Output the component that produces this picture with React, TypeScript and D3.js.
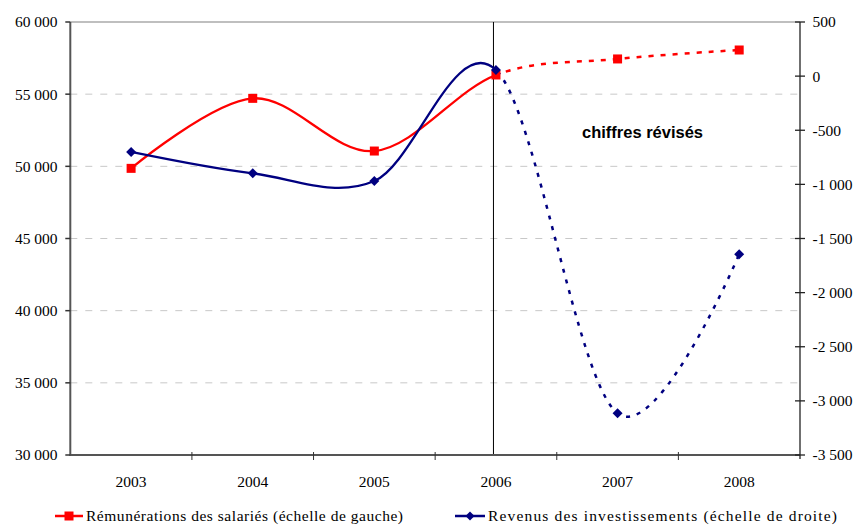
import React from "react";
import * as d3 from "d3";

const years = ["2003", "2004", "2005", "2006", "2007", "2008"];
const remunerations = [49860, 54710, 51060, 56330, 57440, 58060];
const revenus = [-700, -898, -969, 57, -3115, -1646];
const leftTicks = [30000, 35000, 40000, 45000, 50000, 55000, 60000];
const rightTicks = [500, 0, -500, -1000, -1500, -2000, -2500, -3000, -3500];
const revisedFrom = "2006";
const legendLabels = [
  "Rémunérations des salariés (échelle de gauche)",
  "Revenus des investissements (échelle de droite)",
];
const annotation = "chiffres révisés";

const W = 858;
const H = 526;
const L = 70.3;
const R = 800;
const T = 22;
const B = 455;

const fmt = (v: number) => {
  const s = Math.abs(v).toString().replace(/\B(?=(\d{3})+(?!\d))/g, " ");
  return (v < 0 ? "-" : "") + s;
};

const serifStyle: React.CSSProperties = {
  fontFamily: '"Liberation Serif", "Times New Roman", Times, "DejaVu Serif", serif',
};

export default function App() {
  const x = d3.scaleBand<string>().domain(years).range([L, R]).padding(0);
  const cx = (y: string) => (x(y) as number) + x.bandwidth() / 2;
  const yL = d3.scaleLinear().domain([30000, 60000]).range([B, T]);
  const yR = d3.scaleLinear().domain([-3500, 500]).range([B, T]);

  const curve = d3.curveCardinal.tension(0);
  const redLine = d3
    .line<number>()
    .x((_, i) => cx(years[i]))
    .y((d) => yL(d))
    .curve(curve);
  const blueLine = d3
    .line<number>()
    .x((_, i) => cx(years[i]))
    .y((d) => yR(d))
    .curve(curve);

  const splitX = cx(revisedFrom);
  const red = "#ff0000";
  const navy = "#000080";

  const diamond = (px: number, py: number, r: number) =>
    `M${px},${py - r}L${px + r},${py}L${px},${py + r}L${px - r},${py}Z`;

  return (
    <svg
      width={W}
      height={H}
      style={{ position: "absolute", left: 0, top: 0, background: "#fff" }}
    >
      <defs>
        <clipPath id="solidClip">
          <rect x={0} y={0} width={splitX} height={H} />
        </clipPath>
        <clipPath id="dashClip">
          <rect x={splitX} y={0} width={W - splitX} height={H} />
        </clipPath>
      </defs>

      {/* gridlines */}
      {leftTicks
        .filter((t) => t !== 30000 && t !== 60000)
        .map((t) => (
          <line
            key={"g" + t}
            x1={L}
            x2={R}
            y1={yL(t)}
            y2={yL(t)}
            stroke="#c8c8c8"
            strokeWidth={1}
            strokeDasharray="7,8"
          />
        ))}
      <line x1={L} x2={R} y1={yL(60000)} y2={yL(60000)} stroke="#808080" strokeWidth={1.2} />

      {/* vertical separator */}
      <line x1={splitX - 2.5} x2={splitX - 2.5} y1={T} y2={B} stroke="#000" strokeWidth={1} />

      {/* axes */}
      <line x1={L} x2={L} y1={T} y2={B + 1} stroke="#555" strokeWidth={2} />
      <line x1={L} x2={R} y1={B} y2={B} stroke="#555" strokeWidth={2} />
      <line x1={R} x2={R} y1={T} y2={B + 4} stroke="#222" strokeWidth={1.3} />

      <g style={serifStyle} fontSize={15.5} fill="#000">
        {leftTicks.map((t) => (
          <g key={"lt" + t}>
            <line x1={L - 5} x2={L} y1={yL(t)} y2={yL(t)} stroke="#333" strokeWidth={1.5} />
            <text x={57.5} y={yL(t)} dy="0.35em" textAnchor="end">
              {fmt(t)}
            </text>
          </g>
        ))}
        {rightTicks.map((t) => (
          <g key={"rt" + t}>
            <line x1={R - 5} x2={R + 5} y1={yR(t)} y2={yR(t)} stroke="#222" strokeWidth={1.3} />
            <text x={812.5} y={yR(t)} dy="0.35em" textAnchor="start">
              {fmt(t)}
            </text>
          </g>
        ))}
        {years.map((yv) => (
          <text key={"cl" + yv} x={cx(yv)} y={486.5} textAnchor="middle">
            {yv}
          </text>
        ))}
      </g>

      {/* category ticks */}
      {years.slice(1).map((yv) => (
        <line
          key={"ct" + yv}
          x1={x(yv) as number}
          x2={x(yv) as number}
          y1={B - 3}
          y2={B + 5}
          stroke="#333"
          strokeWidth={1}
        />
      ))}

      {/* series lines */}
      <path d={redLine(remunerations) || ""} fill="none" stroke={red} strokeWidth={2.3} clipPath="url(#solidClip)" />
      <path
        d={redLine(remunerations) || ""}
        fill="none"
        stroke={red}
        strokeWidth={2.5}
        strokeDasharray="5,7"
        clipPath="url(#dashClip)"
      />
      <path d={blueLine(revenus) || ""} fill="none" stroke={navy} strokeWidth={2.3} clipPath="url(#solidClip)" />
      <path
        d={blueLine(revenus) || ""}
        fill="none"
        stroke={navy}
        strokeWidth={2.5}
        strokeDasharray="4,7"
        clipPath="url(#dashClip)"
      />

      {/* markers */}
      {remunerations.map((v, i) => (
        <rect
          key={"rm" + i}
          x={cx(years[i]) - 4.5}
          y={yL(v) - 4.5}
          width={9}
          height={9}
          fill={red}
        />
      ))}
      {revenus.map((v, i) => (
        <path key={"bm" + i} d={diamond(cx(years[i]), yR(v), 5)} fill={navy} />
      ))}

      {/* annotation */}
      <text
        x={642.5}
        y={137.5}
        textAnchor="middle"
        style={{ fontFamily: '"Liberation Sans", Arial, sans-serif' }}
        fontWeight="bold"
        fontSize={16.5}
        fill="#000"
      >
        {annotation}
      </text>

      {/* legend */}
      <g>
        <line x1={55} x2={83} y1={516} y2={516} stroke={red} strokeWidth={2.5} />
        <rect x={64.5} y={511.5} width={9} height={9} fill={red} />
        <text x={86} y={521} style={serifStyle} fontSize={15.5} fill="#000" textLength={317} lengthAdjust="spacing">
          {legendLabels[0]}
        </text>
        <line x1={455} x2={485} y1={516} y2={516} stroke={navy} strokeWidth={2.5} />
        <path d={diamond(470, 516, 4.5)} fill={navy} />
        <text x={488} y={521} style={serifStyle} fontSize={15.5} fill="#000" textLength={349} lengthAdjust="spacing">
          {legendLabels[1]}
        </text>
      </g>
    </svg>
  );
}
